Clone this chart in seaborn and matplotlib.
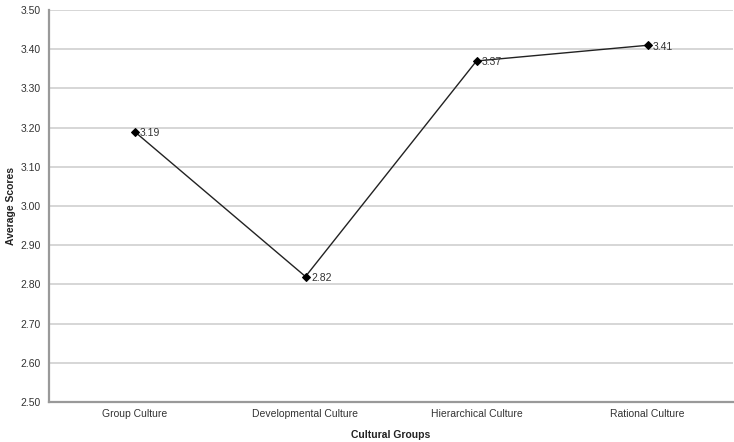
import matplotlib
matplotlib.use("Agg")
import matplotlib.pyplot as plt
import seaborn as sns
import pandas as pd
import numpy as np

categories = ["Group Culture", "Developmental Culture", "Hierarchical Culture", "Rational Culture"]
scores = [3.19, 2.82, 3.37, 3.41]
y_ticks = [2.50, 2.60, 2.70, 2.80, 2.90, 3.00, 3.10, 3.20, 3.30, 3.40, 3.50]

df = pd.DataFrame({"pos": np.arange(len(categories)), "score": scores, "group": categories})

sns.set_style("white")
plt.rcParams["font.family"] = ["Liberation Sans", "DejaVu Sans"]

fig = plt.figure(figsize=(7.34, 4.42), dpi=100)
ax = fig.add_axes([49 / 734, 1 - 402 / 442, (733 - 49) / 734, (402 - 10) / 442])

sns.lineplot(data=df, x="pos", y="score", ax=ax, color="#222222", linewidth=1.0,
             marker="D", markersize=3.8, markeredgecolor="black", markerfacecolor="black")

for x, y in zip(df["pos"], df["score"]):
    ax.annotate(f"{y:.2f}", (x, y), xytext=(4, -1), textcoords="offset points",
                ha="left", va="center", fontsize=7.5, color="#333333")

ax.set_xlim(-0.5, len(categories) - 0.5)
ax.set_ylim(2.50, 3.50)
ax.set_yticks(y_ticks)
ax.set_yticklabels([f"{t:.2f}" for t in y_ticks], fontsize=7.5, color="#333333")
ax.set_xticks(df["pos"])
ax.set_xticklabels(categories, fontsize=7.5, color="#333333")
ax.tick_params(axis="x", length=0, pad=5)
ax.tick_params(axis="y", length=4, width=1, color="#999999", direction="inout", pad=4)

# minor ticks between categories on the x axis
ax.set_xticks(np.arange(len(categories) + 1) - 0.5, minor=True)
ax.tick_params(axis="x", which="minor", length=4, width=1, color="#999999", direction="inout")

ax.yaxis.grid(True, color="#d0d0d0", linewidth=1.2)
ax.set_axisbelow(True)
for side in ["top", "right"]:
    ax.spines[side].set_visible(False)
for side in ["left", "bottom"]:
    ax.spines[side].set_color("#999999")
    ax.spines[side].set_linewidth(1.6)

ax.set_xlabel("Cultural Groups", fontsize=7.5, fontweight="bold", color="#222222", labelpad=8)
ax.set_ylabel("Average Scores", fontsize=7.5, fontweight="bold", color="#222222", labelpad=3)

fig.savefig("out.png", dpi=100)
